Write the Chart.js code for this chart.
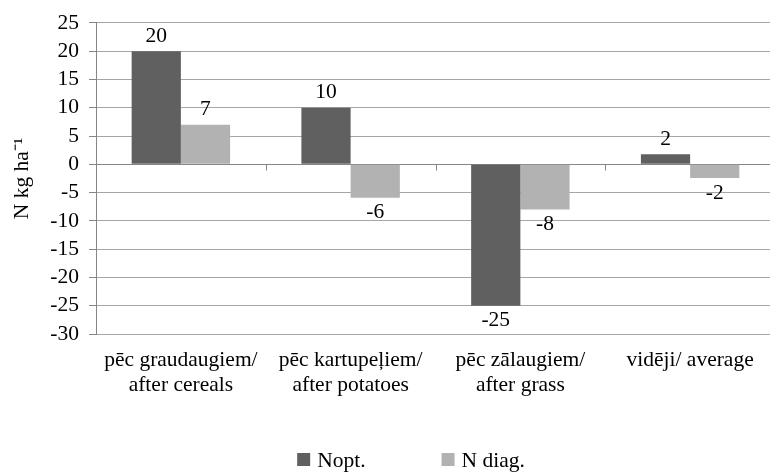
<!DOCTYPE html>
<html>
<head>
<meta charset="utf-8">
<script src="https://cdn.jsdelivr.net/npm/chart.js@4.4.0/dist/chart.umd.min.js"></script>
<style>
html, body { margin: 0; padding: 0; background: #fff; overflow: hidden; }
#wrap { width: 770px; height: 475px; overflow: hidden; }
</style>
</head>
<body>
<div id="wrap"><canvas id="area" width="822" height="475"></canvas></div>
<script>
// data
var categories = [
    ["pēc graudaugiem/", "after cereals"],
    ["pēc kartupeļiem/", "after potatoes"],
    ["pēc zālaugiem/", "after grass"],
    "vidēji/ average"
];
var noptValues = [20, 10, -25, 1.8];
var ndiagValues = [7, -5.9, -8, -2.4];
var yMin = -30, yMax = 25, yStep = 5;
var axisTitle = "N kg ha\u207B\u00B9";

var serif = "'Liberation Serif', 'Times New Roman', serif";
var fontSize = 21.5;
Chart.defaults.font.family = serif;
Chart.defaults.font.size = fontSize;
Chart.defaults.color = '#000';

// value labels at the end of each bar (rounded, like the original)
var barLabels = {
    id: 'barLabels',
    afterDatasetsDraw: function (chart) {
        var c = chart.ctx;
        c.save();
        c.font = fontSize + 'px ' + serif;
        c.fillStyle = '#000';
        c.textAlign = 'center';
        c.textBaseline = 'middle';
        chart.data.datasets.forEach(function (ds, i) {
            chart.getDatasetMeta(i).data.forEach(function (bar, j) {
                var v = ds.data[j];
                var y = v >= 0 ? bar.y - 15 : bar.y + 15;
                c.fillText(String(Math.round(v)), bar.x, y);
            });
        });
        c.restore();
    }
};

// small tick marks on the zero line between categories
var zeroTicks = {
    id: 'zeroTicks',
    beforeDatasetsDraw: function (chart) {
        var x = chart.scales.x, y = chart.scales.y;
        var y0 = Math.round(y.getPixelForValue(0)) + 0.5;
        var c = chart.ctx;
        c.save();
        c.strokeStyle = '#868686';
        c.lineWidth = 1;
        c.beginPath();
        for (var i = 1; i < categories.length; i++) {
            var px = Math.round((x.getPixelForValue(i - 1) + x.getPixelForValue(i)) / 2) + 0.5;
            c.moveTo(px, y0);
            c.lineTo(px, y0 + 6);
        }
        c.stroke();
        c.restore();
    }
};

// legend drawn by hand: Excel-like wide spacing between the two entries
var bottomLegend = {
    id: 'bottomLegend',
    afterDraw: function (chart) {
        var c = chart.ctx;
        var box = 13, gap = 7, spacing = 76;
        c.save();
        c.font = fontSize + 'px ' + serif;
        var items = chart.data.datasets.map(function (ds) {
            return { text: ds.label, color: ds.backgroundColor, w: box + gap + c.measureText(ds.label).width };
        });
        var total = items.reduce(function (s, it) { return s + it.w; }, 0) + spacing * (items.length - 1);
        var x = chart.width / 2 - total / 2;
        var boxTop = chart.height - 22;
        items.forEach(function (it) {
            c.fillStyle = it.color;
            c.fillRect(x, boxTop, box, box);
            c.fillStyle = '#000';
            c.textAlign = 'left';
            c.textBaseline = 'alphabetic';
            c.fillText(it.text, x + box + gap, boxTop + box + 1);
            x += it.w + spacing;
        });
        c.restore();
    }
};

var ctx = document.getElementById('area').getContext('2d');
var myChart = new Chart(ctx, {
    type: 'bar',
    data: {
        labels: categories,
        datasets: [{
            label: 'Nopt.',
            data: noptValues,
            backgroundColor: '#606060',
            borderWidth: 0
        }, {
            label: 'N diag.',
            data: ndiagValues,
            backgroundColor: '#b2b2b2',
            borderWidth: 0
        }]
    },
    options: {
        responsive: false,
        animation: false,
        events: [],
        categoryPercentage: 0.58,
        barPercentage: 1.0,
        layout: { padding: { top: 19, left: 0, right: 0, bottom: 66 } },
        plugins: {
            tooltip: { enabled: false },
            legend: { display: false }
        },
        scales: {
            x: {
                grid: { display: false },
                border: { display: false },
                ticks: { padding: 5, maxRotation: 0, autoSkip: false },
                afterFit: function (s) { s.height = 75; }
            },
            y: {
                min: yMin,
                max: yMax,
                ticks: { stepSize: yStep, padding: 10, autoSkip: false },
                grid: {
                    color: function (c) { return c.tick && c.tick.value === 0 ? '#868686' : '#a6a6a6'; },
                    tickColor: '#868686',
                    tickLength: 7
                },
                border: { display: true, color: '#868686' },
                title: {
                    display: true,
                    text: axisTitle,
                    padding: { top: 9, bottom: 0 }
                },
                afterFit: function (s) { s.width = 96; }
            },
            yR: {
                position: 'right',
                display: true,
                grid: { display: false },
                border: { display: false },
                ticks: { display: false },
                afterFit: function (s) { s.width = 47; }
            }
        }
    },
    plugins: [zeroTicks, barLabels, bottomLegend]
});
</script>
</body>
</html>
